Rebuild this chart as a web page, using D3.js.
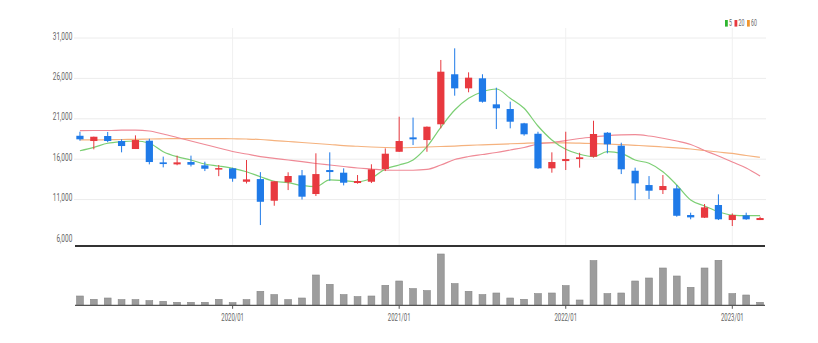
<!DOCTYPE html>
<html>
<head>
<meta charset="utf-8">
<script src="https://cdn.jsdelivr.net/npm/d3@7"></script>
<style>
  html, body { margin: 0; padding: 0; background: #fff; }
  svg { display: block; }
  text { font-family: Roboto, "Noto Sans", sans-serif; fill: #666; }
</style>
</head>
<body>
<svg id="chart" width="818" height="343"></svg>
<script>
// Monthly candles, 2019/02 – 2023/03
const months = [
  "2019/02","2019/03","2019/04","2019/05","2019/06","2019/07","2019/08","2019/09","2019/10","2019/11","2019/12",
  "2020/01","2020/02","2020/03","2020/04","2020/05","2020/06","2020/07","2020/08","2020/09","2020/10","2020/11","2020/12",
  "2021/01","2021/02","2021/03","2021/04","2021/05","2021/06","2021/07","2021/08","2021/09","2021/10","2021/11","2021/12",
  "2022/01","2022/02","2022/03","2022/04","2022/05","2022/06","2022/07","2022/08","2022/09","2022/10","2022/11","2022/12",
  "2023/01","2023/02","2023/03"
];
const openPrices = [
  18900,18250,18870,18250,17260,18290,15610,15360,15650,15240,14750,
  14870,13210,13540,10860,13140,14000,11690,14660,14330,13050,13210,14780,
  16920,18700,18370,20320,26510,24770,26010,22790,22210,20440,19150,14870,
  15770,16020,16310,19280,17670,14570,12800,12180,12390,9090,8760,10330,
  8470,9050,8470
];
const highPrices = [
  19400,18790,19370,18460,18950,18530,16320,16440,16440,15690,15280,
  14950,15900,14400,13300,14380,14660,16730,16850,14870,14040,15370,17340,
  21260,21150,20050,28280,29720,26750,26510,24850,23120,20500,19400,16850,
  19400,16800,20760,19350,18040,14950,13910,14040,12800,9380,10450,11650,
  9290,9380,8880
];
const lowPrices = [
  18290,17220,18100,16850,17260,15360,14990,15250,15100,14530,13900,
  13210,13000,7850,10240,12180,11010,11440,13330,12760,12970,13050,14530,
  16900,17750,16920,19820,23860,24280,23000,19730,19820,18910,14800,14330,
  14660,14950,16200,16730,14160,10940,11070,11690,8880,8560,8720,8470,
  7730,8500,8470
];
const closePrices = [
  18460,18780,18250,17630,18370,15650,15400,15610,15320,14820,14900,
  13590,13500,10730,13260,13920,11360,14160,14410,13090,13300,14750,16680,
  18250,18460,20020,26830,24770,26090,23110,22300,20640,19080,14870,15650,
  16020,16230,19120,17840,14750,13010,12100,12680,9000,8800,10040,8560,
  9090,8560,8720
];
// Trading volume (thousand shares)
const volumes = [
  930,600,730,570,570,470,400,300,300,300,600,
  270,570,1400,1070,570,730,3030,2100,1070,870,930,2000,
  2430,1670,1470,5130,2170,1400,1070,1230,730,600,1170,1230,
  1970,530,4470,1170,1230,2430,2730,3730,2930,1800,3730,4500,
  1170,1030,300
];
// Moving averages of the close
const ma5 = [
  17050,17470,17970,18170,18250,17970,16930,16310,15900,15410,15160,
  14870,14450,13830,13270,13090,12750,12600,13430,13340,13220,13640,14790,
  15280,15900,17550,19950,22090,23540,24350,24690,23540,22300,20110,18380,
  17230,16610,16310,16930,16730,15900,15490,14450,12810,10950,10210,9500,
  9090,9010,9010
];
const ma20 = [
  19530,19550,19550,19590,19610,19490,19120,18690,18250,17820,17390,
  16950,16640,16330,16110,15900,15690,15470,15280,15100,14910,14790,14660,
  14630,14630,14730,15280,15960,16330,16580,16830,17140,17450,17880,18070,
  18310,18560,18750,18910,19000,19030,18870,18590,18250,17820,17080,16400,
  15650,14910,13920
];
const ma60 = [
  18380,18380,18420,18440,18460,18500,18530,18540,18540,18540,18540,
  18530,18500,18440,18310,18190,18070,17940,17820,17690,17600,17510,17450,
  17420,17450,17510,17570,17630,17720,17780,17840,17910,17970,18010,18010,
  18010,17980,17940,17880,17800,17720,17630,17510,17390,17260,17080,16890,
  16710,16460,16240
];
const priceTicks = [6000, 11000, 16000, 21000, 26000, 31000];
const yearTicks = ["2020/01", "2021/01", "2022/01", "2023/01"];
const maSeries = [
  { name: "5",  values: ma5,  color: "#7ccf74", swatch: "#2fb52f", textW: 4 },
  { name: "20", values: ma20, color: "#ef8a96", swatch: "#e8393f", textW: 7 },
  { name: "60", values: ma60, color: "#f5b27e", swatch: "#f0962e", textW: 7 }
];

const UP = "#e8393f", DOWN = "#1f7ae8";

const svg = d3.select("#chart");
const left = 73, right = 767;
const priceTop = 28, priceBottom = 246;

const x = d3.scaleBand().domain(months).range([left, right]).paddingInner(0.48).paddingOuter(0.24);
const xc = m => x(m) + x.bandwidth() / 2;
const y = d3.scaleLinear().domain([6000, 31000]).range([240, 38]);
const yv = d3.scaleLinear().domain([0, 5780]).range([305.3, 247.5]);

const candles = months.map((m, i) => ({
  m, o: openPrices[i], h: highPrices[i], l: lowPrices[i], c: closePrices[i], v: volumes[i]
}));

// Grid
const grid = svg.append("g");
grid.selectAll("line.h").data(priceTicks.filter(t => t > 6000)).join("line")
  .attr("x1", left + 1).attr("x2", right - 1)
  .attr("y1", d => y(d)).attr("y2", d => y(d))
  .attr("stroke", "#ececec").attr("stroke-width", 1);
grid.selectAll("line.v").data(yearTicks).join("line")
  .attr("x1", d => xc(d)).attr("x2", d => xc(d))
  .attr("y1", priceTop).attr("y2", priceBottom)
  .attr("stroke", "#f0f0f0").attr("stroke-width", 1);

// Price labels (narrow lettering)
svg.append("g").selectAll("text").data(priceTicks).join("text")
  .attr("transform", d => `translate(72.3,${y(d) - 1}) scale(0.65,1)`)
  .attr("text-anchor", "end").attr("dominant-baseline", "middle")
  .attr("font-size", 10)
  .text(d => d3.format(",")(d));

// Moving averages
const line = d3.line().x((d, i) => xc(months[i])).y(d => y(d)).curve(d3.curveMonotoneX);
svg.append("g").selectAll("path").data(maSeries.slice().reverse()).join("path")
  .attr("d", s => line(s.values))
  .attr("fill", "none").attr("stroke", s => s.color).attr("stroke-width", 1.2);

// Candles: red when the month closes up, blue when it closes down
const cg = svg.append("g").selectAll("g").data(candles).join("g");
cg.append("line")
  .attr("x1", d => xc(d.m)).attr("x2", d => xc(d.m))
  .attr("y1", d => y(d.h)).attr("y2", d => y(d.l))
  .attr("stroke", d => d.c >= d.o ? UP : DOWN).attr("stroke-width", 1);
cg.append("rect")
  .attr("x", d => x(d.m)).attr("width", x.bandwidth())
  .attr("y", d => y(Math.max(d.o, d.c)))
  .attr("height", d => Math.max(1.5, Math.abs(y(d.o) - y(d.c))))
  .attr("fill", d => d.c >= d.o ? UP : DOWN);

// Pane separator
svg.append("line").attr("x1", left + 2).attr("x2", right - 2)
  .attr("y1", priceBottom).attr("y2", priceBottom)
  .attr("stroke", "#333").attr("stroke-width", 2);

// Volume bars
svg.append("g").selectAll("rect").data(candles).join("rect")
  .attr("x", d => x(d.m) + 0.2).attr("width", x.bandwidth() - 0.4)
  .attr("y", d => yv(d.v)).attr("height", d => yv(0) - yv(d.v))
  .attr("fill", "#9d9d9d").attr("stroke", "#878787").attr("stroke-width", 0.6);

// Time axis
const xAxis = d3.axisBottom(x).tickValues(yearTicks).tickSize(3.5).tickPadding(5);
const ax = svg.append("g").attr("transform", `translate(0,${yv(0)})`).call(xAxis);
ax.select(".domain").attr("d", `M${left + 2},0H${right - 2}`).attr("stroke", "#555").attr("stroke-width", 1.2);
ax.selectAll(".tick line").attr("stroke", "#555");
ax.selectAll(".tick text")
  .attr("font-size", 10).attr("fill", "#666")
  .attr("transform", "scale(0.6,1)");

// Legend
const lg = svg.append("g").attr("transform", "translate(725,20)");
let lx = 0;
maSeries.forEach(s => {
  lg.append("rect").attr("x", lx).attr("y", 0).attr("width", 2.8).attr("height", 6.6).attr("fill", s.swatch);
  lg.append("text").attr("transform", `translate(${lx + 4},3.6) scale(0.55,1)`)
    .attr("dominant-baseline", "middle").attr("font-size", 9.5).text(s.name);
  lx += 4 + s.textW + 1.5;
});
</script>
</body>
</html>
